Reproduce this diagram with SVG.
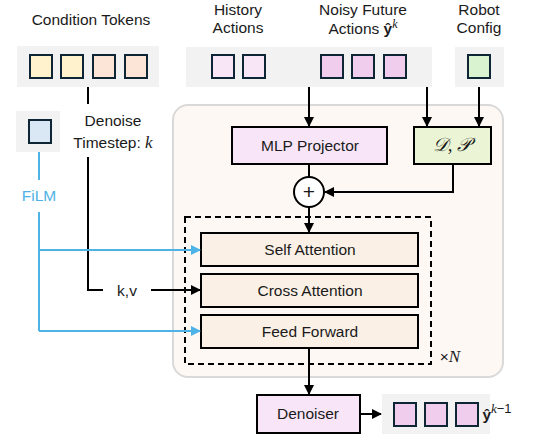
<svg xmlns="http://www.w3.org/2000/svg" width="546" height="437" viewBox="0 0 546 437">
<defs>
<style>
.t{font-family:"Liberation Sans",Arial,sans-serif;font-size:15.5px;fill:#1a1a1a;text-anchor:middle}
.m{font-family:"Liberation Serif","DejaVu Serif",serif;font-style:italic}
.bg{fill:#f2f2f2}
.sq{stroke:#0e2535;stroke-width:2}
.box{stroke:#000;stroke-width:2}
.ln{stroke:#000;stroke-width:2;fill:none}
.bl{stroke:#4db3e6;stroke-width:2;fill:none}
</style>
<marker id="ah" viewBox="0 0 10 10" refX="9" refY="5" markerWidth="5" markerHeight="5" orient="auto"><path d="M0,0L10,5L0,10z" fill="#000"/></marker>
<marker id="ab" viewBox="0 0 10 10" refX="9" refY="5" markerWidth="5" markerHeight="5" orient="auto"><path d="M0,0L10,5L0,10z" fill="#4db3e6"/></marker>
</defs>
<rect x="0" y="0" width="546" height="437" fill="#fff"/>
<g id="container"><rect x="173" y="105" width="330" height="272" rx="15" fill="#fdf8f4" stroke="#d9d9d9" stroke-width="2"/></g>
<g id="condition-tokens">
<text class="t" x="91" y="25">Condition Tokens</text>
<rect class="bg" x="17" y="46" width="142" height="41"/>
<rect class="sq" x="30" y="55" width="22" height="23" fill="#fff2cc"/>
<rect class="sq" x="61" y="55" width="22" height="23" fill="#fff2cc"/>
<rect class="sq" x="93" y="55" width="22" height="23" fill="#fce4d6"/>
<rect class="sq" x="125" y="55" width="22" height="23" fill="#fce4d6"/>
</g>
<g id="history-noisy">
<text class="t" x="238" y="15">History</text>
<text class="t" x="238" y="33">Actions</text>
<text class="t" x="363" y="15">Noisy Future</text>
<text class="t" x="363" y="34">Actions <tspan font-weight="bold">ŷ</tspan><tspan class="m" font-size="12" dy="-6">k</tspan></text>
<rect class="bg" x="186" y="47" width="246" height="40"/>
<rect class="sq" x="212" y="55" width="22" height="23" fill="#f8e6f6"/>
<rect class="sq" x="243" y="55" width="22" height="23" fill="#f8e6f6"/>
<rect class="sq" x="321" y="55" width="22" height="23" fill="#f0cdec"/>
<rect class="sq" x="352" y="55" width="22" height="23" fill="#f0cdec"/>
<rect class="sq" x="384" y="55" width="22" height="23" fill="#f0cdec"/>
</g>
<g id="robot-config">
<text class="t" x="479" y="15">Robot</text>
<text class="t" x="479" y="33">Config</text>
<rect class="bg" x="455" y="47" width="49" height="40"/>
<rect class="sq" x="468" y="55" width="22" height="23" fill="#d9f2d0"/>
</g>
<g id="timestep-token">
<rect class="bg" x="16" y="111" width="44" height="41"/>
<rect class="sq" x="29" y="120" width="22" height="23" fill="#dae8f5"/>
</g>
<g id="mlp-projector"><rect class="box" x="232" y="127" width="155" height="37" fill="#f8e6f8"/><text class="t" x="310" y="151">MLP Projector</text></g>
<g id="dp"><rect class="box" x="414" y="127" width="77" height="37" fill="#ebf5d5"/><text class="t m" x="452" y="151" style="font-size:19px">𝒟, 𝒫</text></g>
<g id="plus"><circle cx="309" cy="192" r="15" fill="#fff" stroke="#000" stroke-width="2"/><text class="t" x="309" y="199" style="font-size:21px">+</text></g>
<g id="layers">
<rect x="185" y="217" width="246" height="147" fill="none" stroke="#000" stroke-width="2" stroke-dasharray="6,4"/>
<rect class="box" x="201" y="233" width="217" height="33" fill="#faf0e6"/><text class="t" x="310" y="255">Self Attention</text>
<rect class="box" x="201" y="274" width="217" height="33" fill="#faf0e6"/><text class="t" x="310" y="296">Cross Attention</text>
<rect class="box" x="201" y="315" width="217" height="33" fill="#faf0e6"/><text class="t" x="310" y="337">Feed Forward</text>
<text class="t" x="450" y="362">×<tspan class="m" font-size="17">N</tspan></text>
</g>
<g id="denoiser"><rect class="box" x="257" y="395" width="103" height="38" fill="#f8e6f8"/><text class="t" x="308" y="419">Denoiser</text></g>
<g id="output">
<rect class="bg" x="382" y="394" width="108" height="40"/>
<rect class="sq" x="394" y="403" width="22" height="23" fill="#f0cdec"/>
<rect class="sq" x="425" y="403" width="22" height="23" fill="#f0cdec"/>
<rect class="sq" x="456" y="403" width="22" height="23" fill="#f0cdec"/>
<text class="t" x="497" y="420" text-anchor="start"><tspan font-weight="bold">ŷ</tspan><tspan class="m" font-size="13" dy="-7">k</tspan><tspan font-size="13">−1</tspan></text>
</g>
<g id="connectors">
<path class="ln" d="M88,87V104M88,157V290H103"/>
<path class="ln" d="M151,290H200" marker-end="url(#ah)"/>
<path class="ln" d="M309,87V126" marker-end="url(#ah)"/>
<path class="ln" d="M427,87V126" marker-end="url(#ah)"/>
<path class="ln" d="M479,87V126" marker-end="url(#ah)"/>
<path class="ln" d="M309,164V177"/>
<path class="ln" d="M453,164V192H325" marker-end="url(#ah)"/>
<path class="ln" d="M309,207V232" marker-end="url(#ah)"/>
<path class="ln" d="M309,348V394" marker-end="url(#ah)"/>
<path class="ln" d="M360,414H381" marker-end="url(#ah)"/>
<path class="bl" d="M39,152V180M39,212V331"/>
<path class="bl" d="M39,250H200" marker-end="url(#ab)"/>
<path class="bl" d="M39,331H200" marker-end="url(#ab)"/>
</g>
<g id="labels">
<text class="t" x="113" y="126">Denoise</text>
<text class="t" x="113" y="148">Timestep: <tspan class="m" font-size="17">k</tspan></text>
<text class="t" x="127" y="296">k,v</text>
<text class="t" x="39" y="201" style="fill:#4db3e6">FiLM</text>
</g>
</svg>
